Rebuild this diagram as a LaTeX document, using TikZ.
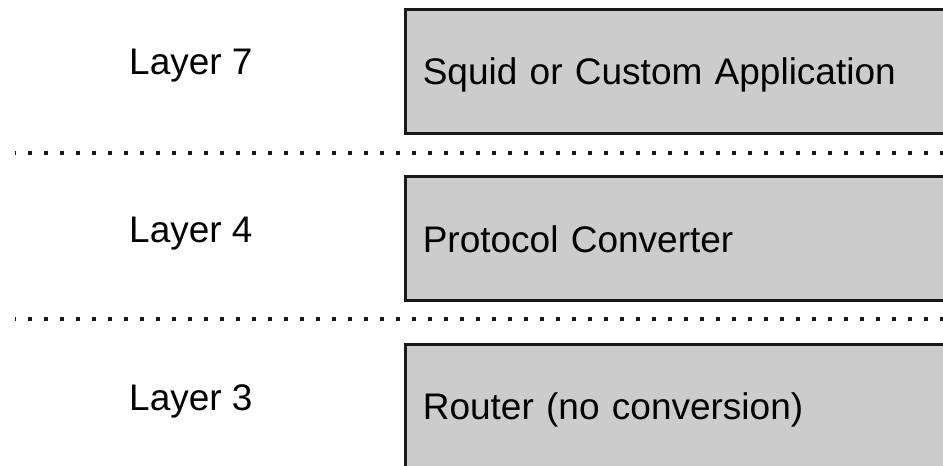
\documentclass[tikz,border=0pt]{standalone}
\usepackage{fontspec}
\setmainfont{Liberation Sans}
\tikzstyle{tier} = [rectangle, draw=black!90, fill=black!20, line width=3pt, anchor=north west, minimum height=124pt, text width=560pt, align=left, inner xsep=17pt, text height=26.5pt, text depth=0pt, font=\fontsize{37}{44}\selectfont]
\tikzstyle{lname} = [anchor=base west, inner sep=0pt, font=\fontsize{37}{44}\selectfont]
\tikzstyle{divider} = [black!90, line width=4pt, dash pattern=on 4pt off 12pt, dash phase=3pt]

\begin{document}
\begin{tikzpicture}[x=1pt,y=-1pt]
\useasboundingbox (0,0) rectangle (943,466);
\node[tier] (app) at (404.3,8) {Squid or Custom Application};
\node[tier] (conv) at (404.3,175.3) {Protocol Converter};
\node[tier] (router) at (404.3,343) {Router (no conversion)};
\node[lname] (l7) at (129,74.3) {Layer 7};
\node[lname] (l4) at (129,242.7) {Layer 4};
\node[lname] (l3) at (129,410.7) {Layer 3};
\coordinate (d1a) at (14.5,152.8);
\coordinate (d1b) at (950,152.8);
\coordinate (d2a) at (14.5,319);
\coordinate (d2b) at (950,319);
\draw[divider] (d1a) -- (d1b);
\draw[divider] (d2a) -- (d2b);
\end{tikzpicture}
\end{document}
